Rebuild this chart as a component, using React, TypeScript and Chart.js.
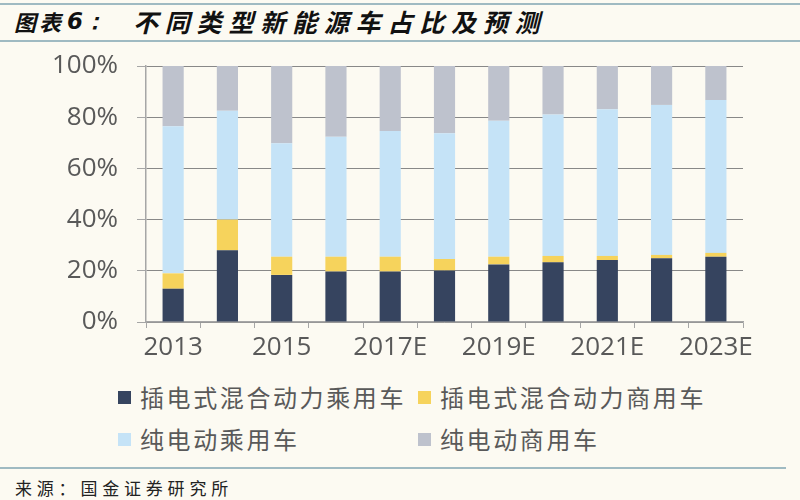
import React, { useEffect, useRef } from "react";
import { Chart, registerables } from "chart.js";

Chart.register(...registerables);

const categories = ["2013", "2014", "2015", "2016", "2017E", "2018E", "2019E", "2020E", "2021E", "2022E", "2023E"];
const phevPassenger = [13, 28, 18.4, 19.7, 19.7, 20.1, 22.5, 23.3, 24.2, 24.9, 25.5];
const phevCommercial = [6, 12, 7.1, 5.8, 5.8, 4.5, 3.0, 2.5, 1.6, 1.3, 1.5];
const bevPassenger = [57.5, 42.5, 44.3, 46.9, 49.1, 49.1, 53.1, 55.3, 57.3, 58.6, 59.7];
const bevCommercial = [23.5, 17.5, 30.2, 27.6, 25.4, 26.3, 21.4, 18.9, 16.9, 15.2, 13.3];
const seriesNames = ["插电式混合动力乘用车", "插电式混合动力商用车", "纯电动乘用车", "纯电动商用车"];
const seriesColors = ["#36445f", "#f6d35c", "#c5e3f7", "#bec2cd"];
const yTickValues = [0, 20, 40, 60, 80, 100];
const titleLead = "图表";
const titleNum = "6：";
const titleMain = "不同类型新能源车占比及预测";
const sourceText = "来源：国金证券研究所";

const BG = "#fcfaf2";
const AXIS = "#a6a6a6";
const TICK_FONT = "'Open Sans', 'Noto Sans CJK SC', sans-serif";
const CJK = "'Noto Sans CJK SC', sans-serif";

export default function App() {
  const canvasRef = useRef<HTMLCanvasElement | null>(null);

  useEffect(() => {
    const canvas = canvasRef.current;
    if (!canvas) return;
    const chart = new Chart(canvas, {
      type: "bar",
      data: {
        labels: categories,
        datasets: [phevPassenger, phevCommercial, bevPassenger, bevCommercial].map((d, i) => ({
          label: seriesNames[i],
          data: d,
          backgroundColor: seriesColors[i],
          borderWidth: 0,
          categoryPercentage: 1,
          barPercentage: 0.39,
        })),
      },
      options: {
        responsive: false,
        animation: false,
        devicePixelRatio: 1,
        layout: { padding: { left: 0, right: 57, top: 16, bottom: 0 } },
        plugins: {
          legend: { display: false },
          tooltip: { enabled: false },
          title: { display: false },
        },
        scales: {
          x: {
            stacked: true,
            offset: true,
            grid: {
              display: true,
              drawOnChartArea: false,
              drawTicks: true,
              tickLength: 6,
              tickColor: AXIS,
              offset: true,
            },
            border: { display: true, color: AXIS, width: 1.5 },
            ticks: {
              autoSkip: false,
              maxRotation: 0,
              padding: 4,
              color: "#595959",
              font: { family: TICK_FONT, size: 26 },
              callback: (_v: any, idx: number) => (idx % 2 === 0 ? categories[idx] : ""),
            },
            afterFit: (scale: any) => {
              scale.height = 48;
            },
          },
          y: {
            stacked: true,
            min: 0,
            max: 100,
            afterBuildTicks: (scale: any) => {
              scale.ticks = yTickValues.map((v) => ({ value: v }));
            },
            grid: {
              display: true,
              color: "#888888",
              lineWidth: 1,
              drawTicks: true,
              tickLength: 9,
              tickColor: AXIS,
            },
            border: { display: true, color: AXIS, width: 1.5 },
            ticks: {
              padding: 19,
              color: "#595959",
              font: { family: TICK_FONT, size: 26 },
              callback: (v: any) => `${v}%`,
            },
            afterFit: (scale: any) => {
              scale.width = 146;
              scale.paddingTop = 0;
              scale.paddingBottom = 0;
            },
          },
        },
      },
    });
    return () => chart.destroy();
  }, []);

  const lineStyle = (top: number, width: number): React.CSSProperties => ({
    position: "absolute",
    left: 0,
    top,
    width,
    height: 2,
    background: "#9fbac2",
  });

  const legendPos = [
    { x: 118, y: 397 },
    { x: 418, y: 397 },
    { x: 118, y: 439 },
    { x: 418, y: 439 },
  ];

  const titleBase: React.CSSProperties = {
    position: "absolute",
    top: 4,
    lineHeight: "34px",
    fontWeight: 700,
    fontStyle: "italic",
    color: "#111",
    whiteSpace: "nowrap",
  };

  return (
    <div
      style={{
        position: "fixed",
        left: 0,
        top: 0,
        width: 800,
        height: 500,
        background: BG,
        overflow: "hidden",
      }}
    >
      <div style={lineStyle(3, 800)} />
      <div style={lineStyle(40, 800)} />
      <div style={{ ...titleBase, left: 14, fontFamily: CJK, fontSize: 22, letterSpacing: 3 }}>{titleLead}</div>
      <div style={{ ...titleBase, left: 67, fontFamily: "'DejaVu Sans', sans-serif", fontSize: 23 }}>{titleNum}</div>
      <div style={{ ...titleBase, left: 133, fontFamily: CJK, fontSize: 25, letterSpacing: 6.8 }}>{titleMain}</div>

      <canvas
        ref={canvasRef}
        width={800}
        height={320}
        style={{ position: "absolute", left: 0, top: 50, width: 800, height: 320 }}
      />

      {seriesNames.map((name, i) => (
        <React.Fragment key={name}>
          <div
            style={{
              position: "absolute",
              left: legendPos[i].x,
              top: legendPos[i].y - 6,
              width: 13,
              height: 13,
              background: seriesColors[i],
            }}
          />
          <div
            style={{
              position: "absolute",
              left: legendPos[i].x + 22,
              top: legendPos[i].y - 17,
              lineHeight: "34px",
              fontFamily: CJK,
              fontSize: 24,
              letterSpacing: 2.6,
              color: "#595959",
              whiteSpace: "nowrap",
            }}
          >
            {name}
          </div>
        </React.Fragment>
      ))}

      <div style={{ ...lineStyle(467, 786) }} />
      <div
        style={{
          position: "absolute",
          left: 15,
          top: 474,
          lineHeight: "28px",
          fontFamily: CJK,
          fontSize: 17,
          letterSpacing: 4.8,
          color: "#222",
          whiteSpace: "nowrap",
        }}
      >
        {sourceText}
      </div>
    </div>
  );
}
